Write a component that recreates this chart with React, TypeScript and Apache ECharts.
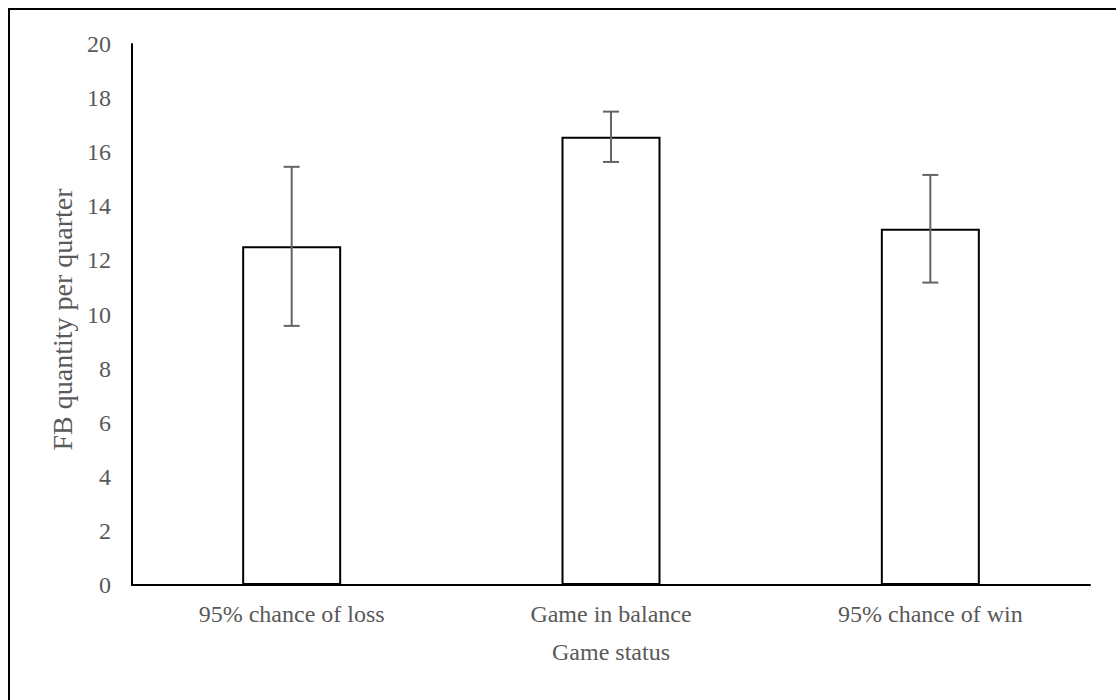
import React, { useEffect, useRef } from "react";
import * as echarts from "echarts";

const categories = ["95% chance of loss", "Game in balance", "95% chance of win"];
const means = [12.52, 16.57, 13.17];
const errors = [2.94, 0.93, 1.99];
const yTicks = { min: 0, max: 20, interval: 2 };

const FONT = "'Liberation Serif', 'Times New Roman', serif";
const TXT = "#595959";

export default function App() {
  const ref = useRef<HTMLDivElement>(null);
  useEffect(() => {
    document.body.style.margin = "0";
    const chart = echarts.init(ref.current!, null, { renderer: "svg" });
    const errData = means.map((m, i) => [i, m - errors[i], m + errors[i]]);
    chart.setOption({
      animation: false,
      backgroundColor: "#ffffff",
      textStyle: { fontFamily: FONT },
      grid: { left: 132, right: 26, top: 44, bottom: 115, containLabel: false },
      graphic: [
        {
          type: "rect",
          shape: { x: 9, y: 9, width: 1200, height: 800 },
          style: { fill: "none", stroke: "#000", lineWidth: 2 },
          silent: true,
        },
      ],
      xAxis: {
        type: "category",
        data: categories,
        name: "Game status",
        nameLocation: "middle",
        nameGap: 55,
        nameTextStyle: { color: TXT, fontSize: 24, fontFamily: FONT },
        axisLine: { lineStyle: { color: "#000", width: 2 } },
        axisTick: { show: false },
        axisLabel: { color: TXT, fontSize: 24, fontFamily: FONT, margin: 17 },
      },
      yAxis: {
        type: "value",
        min: yTicks.min,
        max: yTicks.max,
        interval: yTicks.interval,
        name: "FB quantity per quarter",
        nameLocation: "middle",
        nameGap: 51,
        nameTextStyle: { color: TXT, fontSize: 28, fontFamily: FONT, padding: [0, 10, 0, 0] },
        axisLine: { show: true, lineStyle: { color: "#000", width: 2 } },
        axisTick: { show: false },
        splitLine: { show: false },
        axisLabel: { color: TXT, fontSize: 24, fontFamily: FONT, margin: 21 },
      },
      series: [
        {
          type: "bar",
          data: means,
          barWidth: "31%",
          itemStyle: { color: "#ffffff", borderColor: "#000", borderWidth: 2 },
        },
        {
          type: "custom",
          data: errData,
          z: 10,
          renderItem: (params: any, api: any) => {
            const x = api.value(0);
            const lo = api.coord([x, api.value(1)]);
            const hi = api.coord([x, api.value(2)]);
            const half = 8;
            const style = { stroke: "#646464", lineWidth: 2 };
            return {
              type: "group",
              children: [
                { type: "line", shape: { x1: hi[0], y1: hi[1], x2: lo[0], y2: lo[1] }, style },
                { type: "line", shape: { x1: hi[0] - half, y1: hi[1], x2: hi[0] + half, y2: hi[1] }, style },
                { type: "line", shape: { x1: lo[0] - half, y1: lo[1], x2: lo[0] + half, y2: lo[1] }, style },
              ],
            };
          },
        },
      ],
    });
    return () => chart.dispose();
  }, []);
  return <div ref={ref} style={{ position: "absolute", left: 0, top: 0, width: 1116, height: 700 }} />;
}
